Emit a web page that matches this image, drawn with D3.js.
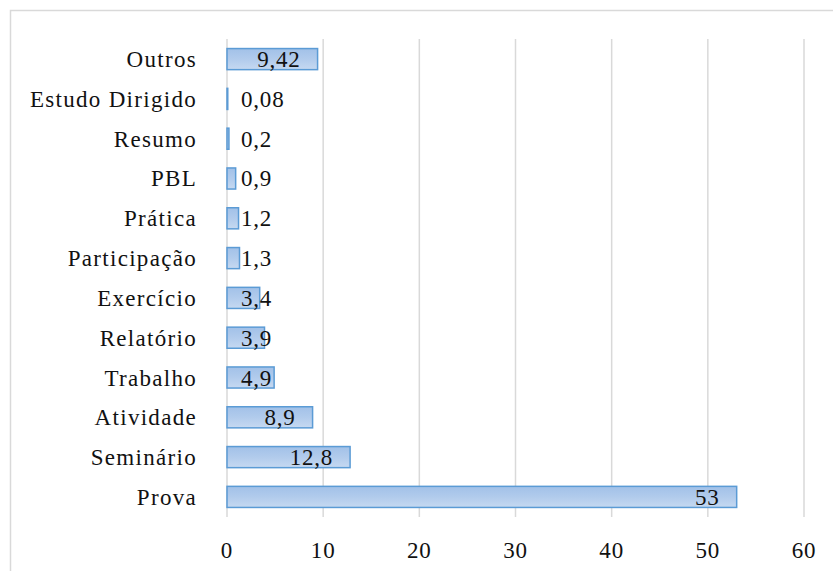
<!DOCTYPE html>
<html>
<head>
<meta charset="utf-8">
<script src="https://cdn.jsdelivr.net/npm/d3@7.9.0/dist/d3.min.js"></script>
<style>
  body { margin: 0; background: #fff; }
  text { font-family: "Liberation Serif", "DejaVu Serif", serif; fill: #111; letter-spacing: 0.8px; }
  text.cat { letter-spacing: 1.3px; }
</style>
</head>
<body>
<div id="chart"></div>
<script>
// categories top to bottom
const categories = ["Outros", "Estudo Dirigido", "Resumo", "PBL", "Prática", "Participação",
  "Exercício", "Relatório", "Trabalho", "Atividade", "Seminário", "Prova"];
const values = [9.42, 0.08, 0.2, 0.9, 1.2, 1.3, 3.4, 3.9, 4.9, 8.9, 12.8, 53];
const valueLabels = ["9,42", "0,08", "0,2", "0,9", "1,2", "1,3", "3,4", "3,9", "4,9", "8,9", "12,8", "53"];
const xTicks = [0, 10, 20, 30, 40, 50, 60];

const W = 833, H = 571;
const FS = 23;

const svg = d3.select("#chart").append("svg")
  .attr("width", W).attr("height", H);

// outer chart frame (goes off canvas right/bottom)
svg.append("rect")
  .attr("x", 10.5).attr("y", 10.5)
  .attr("width", W + 20).attr("height", H + 20)
  .attr("fill", "none").attr("stroke", "#d9d9d9").attr("stroke-width", 1.5);

const defs = svg.append("defs");
const grad = defs.append("linearGradient")
  .attr("id", "barGrad").attr("x1", 0).attr("y1", 0).attr("x2", 0).attr("y2", 1);
grad.append("stop").attr("offset", "0%").attr("stop-color", "#a2c1e8");
grad.append("stop").attr("offset", "50%").attr("stop-color", "#b1cbec");
grad.append("stop").attr("offset", "100%").attr("stop-color", "#c6d9f1");

const x = d3.scaleLinear().domain([0, 60]).range([227, 804]);
const y = d3.scaleBand().domain(categories).range([39, 517]).paddingInner(0.47).paddingOuter(0.24);

// gridlines
svg.append("g")
  .selectAll("line.grid")
  .data(xTicks)
  .join("line")
  .attr("class", "grid")
  .attr("x1", d => x(d)).attr("x2", d => x(d))
  .attr("y1", 39).attr("y2", 517)
  .attr("stroke", "#d9d9d9").attr("stroke-width", 1.5);

// x tick labels
svg.append("g")
  .selectAll("text.xtick")
  .data(xTicks)
  .join("text")
  .attr("class", "xtick")
  .attr("x", d => x(d))
  .attr("y", 558)
  .attr("text-anchor", "middle")
  .attr("font-size", FS)
  .text(d => d);

// category labels
svg.append("g")
  .selectAll("text.cat")
  .data(categories)
  .join("text")
  .attr("class", "cat")
  .attr("x", 197)
  .attr("y", d => y(d) + y.bandwidth() / 2 + 8)
  .attr("text-anchor", "end")
  .attr("font-size", FS)
  .text(d => d);

// bars
svg.append("g")
  .selectAll("rect.bar")
  .data(categories)
  .join("rect")
  .attr("class", "bar")
  .attr("x", x(0))
  .attr("y", (d) => y(d))
  .attr("width", (d, i) => Math.max(x(values[i]) - x(0), 0.5))
  .attr("height", y.bandwidth())
  .attr("fill", "url(#barGrad)")
  .attr("stroke", "#5b9bd5")
  .attr("stroke-width", 1.5);

// value labels: inside end, pushed right when bar is too short
const vl = svg.append("g")
  .selectAll("text.val")
  .data(categories)
  .join("text")
  .attr("class", "val")
  .attr("y", d => y(d) + y.bandwidth() / 2 + 8)
  .attr("font-size", FS)
  .text((d, i) => valueLabels[i]);

vl.each(function(d, i) {
  const w = this.getComputedTextLength();
  const left = Math.max(x(values[i]) - 17 - w, x(0) + 14);
  d3.select(this).attr("x", left);
});
</script>
</body>
</html>
